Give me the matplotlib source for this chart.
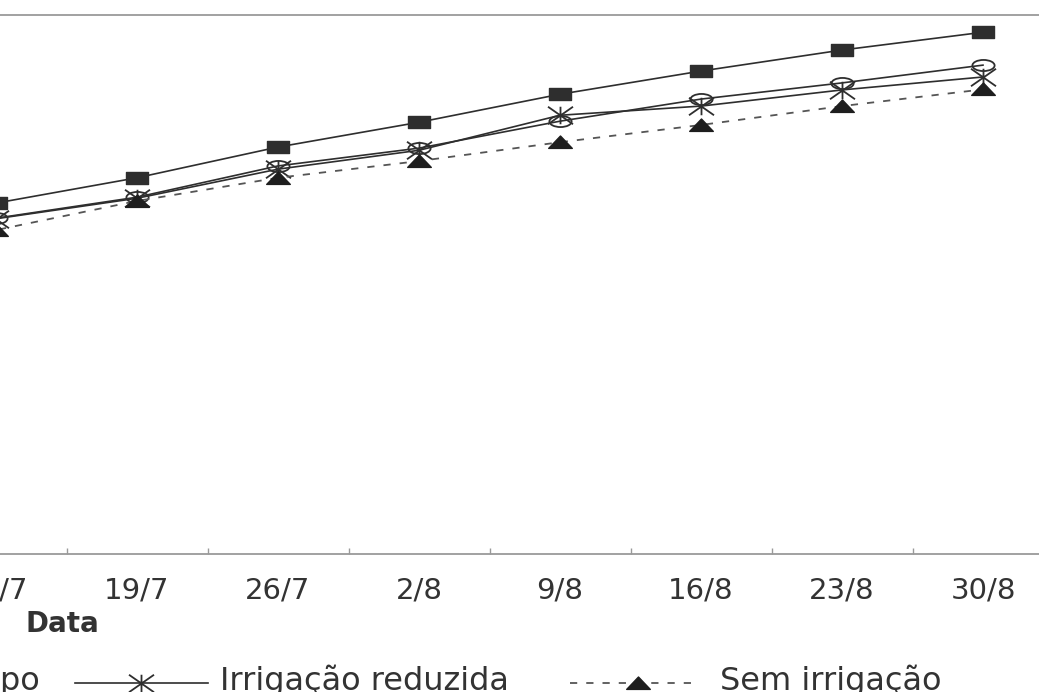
import numpy as np
import matplotlib.pyplot as plt
from matplotlib.path import Path
from matplotlib.lines import Line2D

plt.rcParams["font.family"] = "DejaVu Sans"

# weekly sampling dates
datas = ["12/7", "19/7", "26/7", "2/8", "9/8", "16/8", "23/8", "30/8"]

plena = [65.1, 69.8, 75.5, 80.1, 85.3, 89.6, 93.5, 96.8]
campo = [62.3, 66.2, 72.0, 75.3, 80.3, 84.4, 87.4, 90.7]
reduzida = [62.2, 66.0, 71.4, 74.9, 81.4, 83.1, 86.1, 88.5]
sem_irrigacao = [60.1, 65.5, 69.8, 72.9, 76.4, 79.6, 83.1, 86.2]

legenda = ["Campo", "Irrigação reduzida", "Sem irrigação"]

W, H = 1039, 692
ink = "#2e2e2e"
grey = "#9a9a9a"

M, L, C = Path.MOVETO, Path.LINETO, Path.CLOSEPOLY
rect = Path([(-1, -.5), (1, -.5), (1, .5), (-1, .5), (0, 0)], [M, L, L, L, C])
circ = Path.unit_circle()
oval = Path(circ.vertices * [1, .5], circ.codes)
star = Path([(0, -.7), (0, .7), (-1, -.7), (1, .7), (-1, .7), (1, -.7)],
            [M, L, M, L, M, L])
tri = Path([(-1, -.5), (1, -.5), (0, .55), (0, 0)], [M, L, L, C])


def fx(x):
    return x / W


def fy(y):
    return (H - y) / H


fig = plt.figure(figsize=(W / 100, H / 100), dpi=100)
fig.patch.set_facecolor("white")
ax = fig.add_axes([fx(-74.5), fy(554), 1128 / W, 539 / H])

x = np.arange(len(datas))
ax.plot(x, plena, color=ink, lw=1.2, marker=rect, ms=16, mfc=ink, mec=ink, zorder=3)
ax.plot(x, campo, color=ink, lw=1.2, marker=oval, ms=16, mfc="none", mec=ink, mew=1.3, zorder=3)
ax.plot(x, reduzida, color=ink, lw=1.2, marker=star, ms=18, mec=ink, mew=1.3, zorder=3)
ax.plot(x, sem_irrigacao, color="#555555", lw=1.3, dashes=(4, 5), marker=tri, ms=17,
        mfc="#1e1e1e", mec="#1e1e1e", zorder=3)

ax.set_xlim(-0.5, len(datas) - 0.5)
ax.set_ylim(0, 100)
ax.set_xticks(x, datas)
ax.set_xticks(np.arange(-0.5, len(datas), 1), minor=True)
ax.tick_params(axis="x", which="major", length=0, pad=16, labelsize=21, labelcolor="#333333")
ax.tick_params(axis="x", which="minor", direction="in", length=4, color=grey, width=1)
ax.tick_params(axis="y", left=False, labelleft=False)
for s in ["left", "right"]:
    ax.spines[s].set_visible(False)
for s in ["top", "bottom"]:
    ax.spines[s].set_color(grey)
    ax.spines[s].set_linewidth(1.3)

fig.text(fx(25), fy(624), "Data", fontsize=20, fontweight="bold", color="#333333",
         ha="left", va="center")

# legend row along the bottom edge
ly = fy(683)
tb = fy(690)
fig.text(fx(40), tb, legenda[0], fontsize=23, color="#333333", ha="right", va="baseline")
fig.add_artist(Line2D([fx(75), fx(208)], [ly, ly], color=ink, lw=1.2, transform=fig.transFigure))
fig.add_artist(Line2D([fx(141)], [ly], marker=star, ms=18, mec=ink, mew=1.3, ls="none",
                      transform=fig.transFigure))
fig.text(fx(220), tb, legenda[1], fontsize=23, color="#333333", ha="left", va="baseline")
fig.add_artist(Line2D([fx(570), fx(698)], [ly, ly], color="#555555", lw=1.3, dashes=(4, 5),
                      transform=fig.transFigure))
fig.add_artist(Line2D([fx(638)], [ly], marker=tri, ms=17, mfc="#1e1e1e", mec="#1e1e1e",
                      ls="none", transform=fig.transFigure))
fig.text(fx(720), tb, legenda[2], fontsize=23, color="#333333", ha="left", va="baseline")

fig.savefig("out.png", dpi=100, facecolor="white")
